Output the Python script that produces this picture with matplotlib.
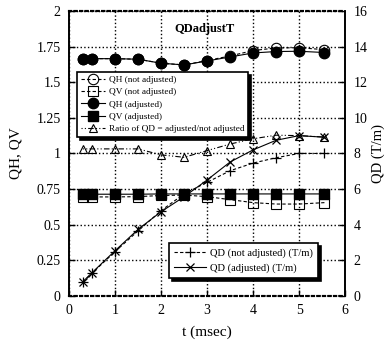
import matplotlib
matplotlib.use('Agg')
import matplotlib.pyplot as plt

plt.rcParams['font.family'] = 'Liberation Serif'

# time (msec)
t = [0.3, 0.5, 1, 1.5, 2, 2.5, 3, 3.5, 4, 4.5, 5, 5.55]

# left axis values
qh_not = [1.665, 1.665, 1.665, 1.661, 1.633, 1.621, 1.652, 1.684, 1.722, 1.740, 1.742, 1.728]
qv_not = [0.695, 0.695, 0.695, 0.697, 0.705, 0.708, 0.697, 0.676, 0.655, 0.645, 0.645, 0.655]
qh_adj = [1.665, 1.665, 1.665, 1.661, 1.633, 1.621, 1.649, 1.677, 1.705, 1.715, 1.717, 1.708]
qv_adj = [0.714, 0.714, 0.714, 0.714, 0.716, 0.716, 0.716, 0.716, 0.716, 0.716, 0.716, 0.716]
ratio = [1.032, 1.032, 1.032, 1.032, 0.99, 0.973, 1.02, 1.066, 1.103, 1.128, 1.125, 1.115]

# right axis values (T/m)
qd_not = [0.78, 1.28, 2.49, 3.65, 4.79, 5.73, 6.38, 7.03, 7.46, 7.76, 8.0, 8.0]
qd_adj = [0.80, 1.31, 2.54, 3.74, 4.73, 5.57, 6.51, 7.52, 8.20, 8.74, 9.0, 8.91]

fig = plt.figure(figsize=(3.9, 3.41), dpi=100)
ax = fig.add_axes([0.177, 0.132, 0.708, 0.836])
ax2 = ax.twinx()

dash = (0, (3, 2))
l1, = ax.plot(t, qh_not, color='k', lw=0.8, ls=dash, marker='o', ms=7.5,
              mfc='none', mec='k', mew=0.8, label='QH (not adjusted)')
l2, = ax.plot(t, qv_not, color='k', lw=0.8, ls=dash, marker='s', ms=6.5,
              mfc='none', mec='k', mew=0.8, label='QV (not adjusted)')
l3, = ax.plot(t, qh_adj, color='k', lw=0.8, marker='o', ms=7.5,
              mfc='k', mec='k', label='QH (adjusted)')
l4, = ax.plot(t, qv_adj, color='k', lw=0.8, marker='s', ms=6.5,
              mfc='k', mec='k', label='QV (adjusted)')
l5, = ax.plot(t, ratio, color='k', lw=0.8, ls=(0, (1, 2, 1, 2, 5, 2)), marker='^', ms=5.5,
              mfc='none', mec='k', mew=0.8, label='Ratio of QD = adjusted/not adjusted')

l6, = ax2.plot(t, qd_not, color='k', lw=0.8, ls=dash, marker='+', ms=7,
               mew=0.9, label='QD (not adjusted) (T/m)')
l7, = ax2.plot(t, qd_adj, color='k', lw=0.8, marker='x', ms=6,
               mew=0.9, label='QD (adjusted) (T/m)')

ax.set_xlim(0, 6)
ax.set_ylim(0, 2)
ax2.set_ylim(0, 16)
ax.set_xticks(range(0, 7))
ax.set_yticks([0, 0.25, 0.5, 0.75, 1, 1.25, 1.5, 1.75, 2])
ax.set_yticklabels(['0', '0.25', '0.5', '0.75', '1', '1.25', '1.5', '1.75', '2'])
ax2.set_yticks(range(0, 17, 2))

ax.grid(True, color='k', ls=':', lw=1)
ax.tick_params(direction='in', length=4, width=1, labelsize=10, pad=6)
ax2.tick_params(direction='in', length=4, width=1, labelsize=10, pad=6)

for a in (ax, ax2):
    for s in ('left', 'right'):
        a.spines[s].set_linewidth(1.2)
    for s in ('top', 'bottom'):
        a.spines[s].set_linewidth(1.5)
        a.spines[s].set_linestyle(':')

ax.set_xlabel('t (msec)', fontsize=11, labelpad=6)
ax.set_ylabel('QH, QV', fontsize=11, labelpad=10)
ax2.set_ylabel('QD (T/m)', fontsize=10.5, labelpad=3)

ax.text(0.49, 0.935, 'QDadjustT', transform=ax.transAxes, fontsize=9,
        fontweight='bold', ha='center', va='center')

shadow = {'color': 'k', 'alpha': 1.0}
leg1 = ax2.legend(handles=[l1, l2, l3, l4, l5], loc='upper left',
                  bbox_to_anchor=(0.029, 0.786), fontsize=6.7, frameon=True,
                  fancybox=False, edgecolor='k', framealpha=1, shadow=shadow,
                  handlelength=2.6, handletextpad=0.4, labelspacing=0.4,
                  borderpad=0.4, borderaxespad=0)
leg1.get_frame().set_linewidth(1.2)
ax2.add_artist(leg1)
leg2 = ax2.legend(handles=[l6, l7], loc='lower right',
                  bbox_to_anchor=(0.902, 0.063), fontsize=7.6, frameon=True,
                  fancybox=False, edgecolor='k', framealpha=1, shadow=shadow,
                  handlelength=3, handletextpad=0.4, labelspacing=0.5,
                  borderpad=0.5, borderaxespad=0)
leg2.get_frame().set_linewidth(1.2)

fig.savefig('out.png', dpi=100)
